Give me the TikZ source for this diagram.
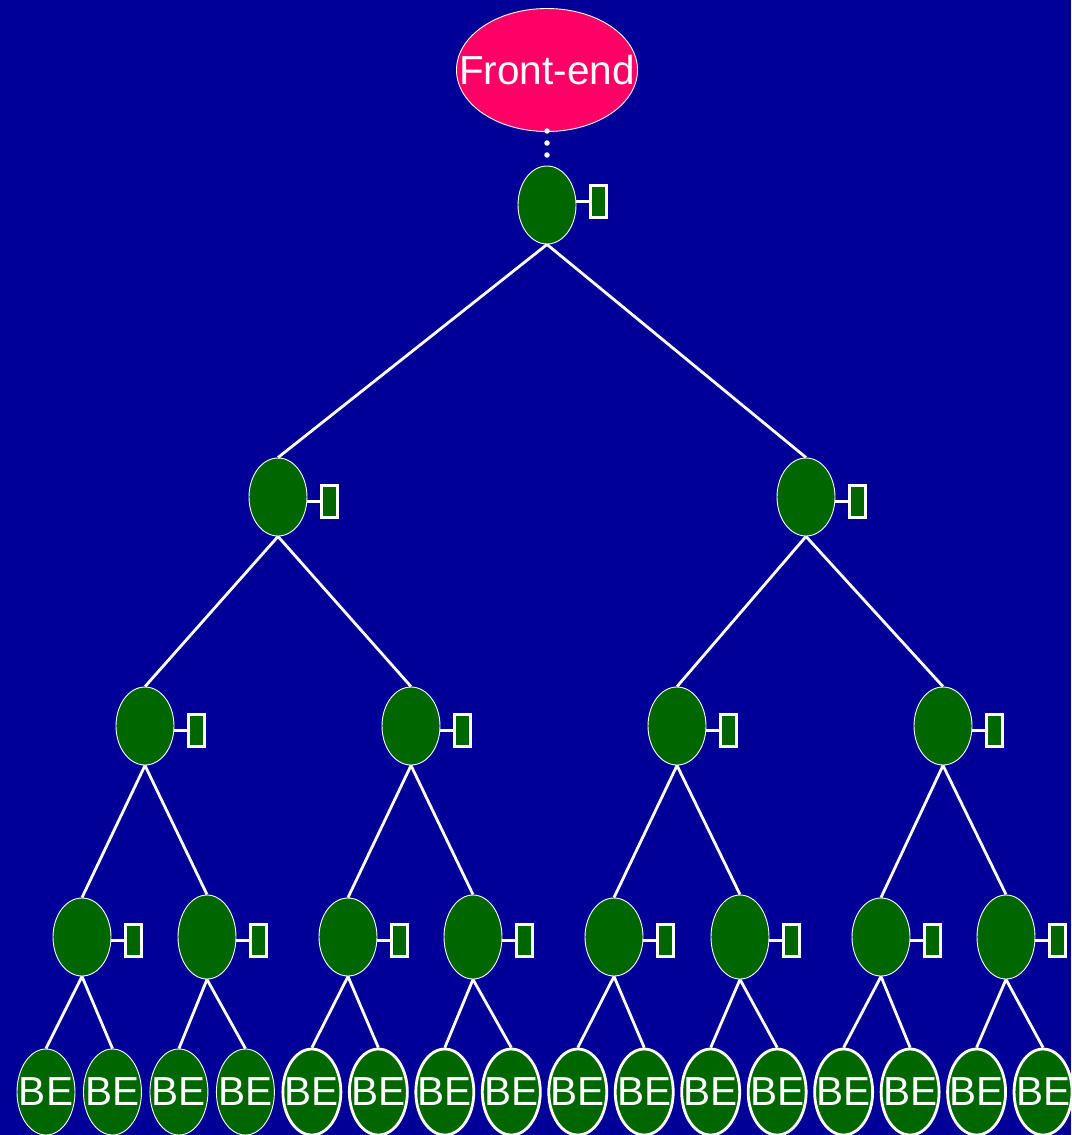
\documentclass[tikz,border=0pt]{standalone}
\usepackage{fontspec}
\setmainfont{Liberation Sans}
\usetikzlibrary{shapes.geometric}
\definecolor{bgblue}{RGB}{0,0,153}
\definecolor{fepink}{RGB}{255,0,102}
\definecolor{nodegreen}{RGB}{0,102,0}
\begin{document}
\begin{tikzpicture}[x=1pt,y=-1pt,
  gnode/.style={ellipse,draw=white,line width=0.9pt,fill=nodegreen,minimum width=58pt,minimum height=78pt,inner sep=0pt},
  fenode/.style={ellipse,draw=white,line width=0.9pt,fill=fepink,minimum width=181pt,minimum height=123pt,inner sep=0pt},
  bigtext/.style={text=white,inner sep=0pt,font=\fontsize{40.5}{42}\selectfont},
  sidebox/.style={rectangle,draw=white,line width=3pt,fill=nodegreen,minimum width=16pt,minimum height=32pt,inner sep=0pt},
  edge/.style={draw=white,line width=2.8pt},
  link/.style={draw=white,line width=3pt},
  dotnode/.style={circle,fill=white,inner sep=0pt,minimum size=5.5pt}
]
\fill[bgblue] (0,0) rectangle (1071,1135);
\useasboundingbox (0,0) rectangle (1071,1135);

% front-end
\node[fenode,label={[bigtext]center:Front-end}] (fe) at (547,70) {};
\node[dotnode] (d1) at (547,131) {};
\node[dotnode] (d2) at (547,143) {};
\node[dotnode] (d3) at (547,155) {};

% root
\node[gnode] (r) at (547,205) {};
\node[sidebox] (br) at (598.5,201) {};
\draw[link] (r.east |- br.west) -- (br.west);

% level 1
\foreach \i/\x in {1/278,2/806} {
  \node[gnode] (a\i) at (\x,497) {};
  \node[sidebox] (ba\i) at (\x+51.5,501) {};
  \draw[link] (a\i.east |- ba\i.west) -- (ba\i.west);
  \draw[edge] (r.south) -- (a\i.north);
}

% level 2
\foreach \i/\x/\p in {1/145/1,2/411/1,3/677/2,4/943/2} {
  \node[gnode] (b\i) at (\x,726) {};
  \node[sidebox] (bb\i) at (\x+51.5,730) {};
  \draw[link] (b\i.east |- bb\i.west) -- (bb\i.west);
  \draw[edge] (a\p.south) -- (b\i.north);
}

% level 3
\foreach \i/\x/\p/\h in {1/82/1/78,2/207/1/84,3/348/2/78,4/473/2/84,5/614/3/78,6/740/3/84,7/881/4/78,8/1006/4/84} {
  \node[gnode,minimum height=\h pt] (c\i) at (\x,937) {};
  \node[sidebox] (bc\i) at (\x+51.5,940.5) {};
  \draw[link] (c\i.east |- bc\i.west) -- (bc\i.west);
  \draw[edge] (b\p.south) -- (c\i.north);
}

% leaves
\foreach \i in {1,...,16} {
  \pgfmathsetmacro\lx{46+66.47*(\i-1)}
  \pgfmathtruncatemacro\p{(\i+1)/2}
  \pgfmathsetmacro\lw{\i<5 ? 0.9 : 2.8}
  \node[gnode,line width=\lw pt,minimum height=86pt,label={[bigtext]center:BE}] (l\i) at (\lx,1092) {};
  \draw[edge] (c\p.south) -- (l\i.north);
}
\end{tikzpicture}
\end{document}
